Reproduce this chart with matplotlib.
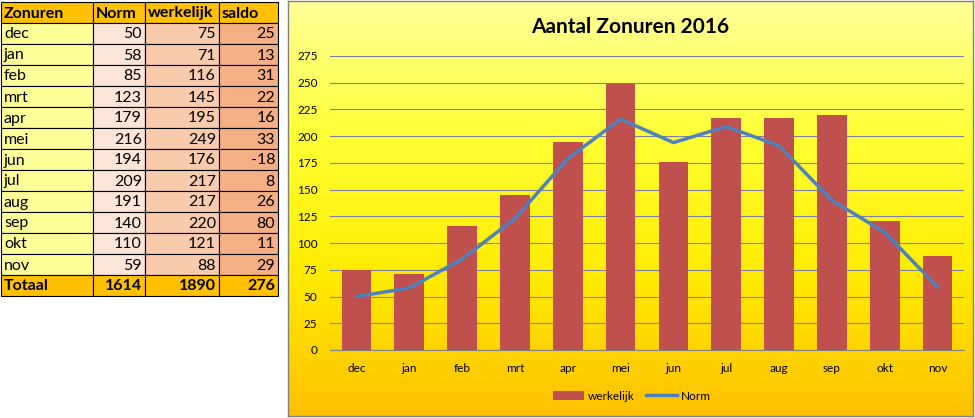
import numpy as np
import matplotlib.pyplot as plt
from matplotlib.patches import Rectangle
from matplotlib.colors import LinearSegmentedColormap

maanden = ["dec", "jan", "feb", "mrt", "apr", "mei", "jun", "jul", "aug", "sep", "okt", "nov"]
norm = [50, 58, 85, 123, 179, 216, 194, 209, 191, 140, 110, 59]
werkelijk = [75, 71, 116, 145, 195, 249, 176, 217, 217, 220, 121, 88]
saldo = [25, 13, 31, 22, 16, 33, -18, 8, 26, 80, 11, 29]
kolommen = ["Zonuren", "Norm", "werkelijk", "saldo"]
y_ticks = list(range(0, 276, 25))

plt.rcParams["font.family"] = ["Lato", "DejaVu Sans"]

W, H = 975, 418
fig = plt.figure(figsize=(W / 100, H / 100), dpi=100)
fig.patch.set_facecolor("white")


def px_axes(x0, y0, x1, y1, **kw):
    # pixel box (top-left origin) -> figure axes
    return fig.add_axes([x0 / W, 1 - y1 / H, (x1 - x0) / W, (y1 - y0) / H], **kw)


# ---- tabel links ----
tab = px_axes(0, 0, W, H)
tab.set_xlim(0, W)
tab.set_ylim(H, 0)
tab.axis("off")

col_x = [1, 93, 145, 219, 278]
row_h = 21
top = 2
kleur_kop = "#FFC000"
kleur_kol = ["#FFFF99", "#FCE4D6", "#F8CBAD", "#F4B084"]

def cel(r, c, tekst, fc, bold=False, rechts=False):
    x0, x1 = col_x[c], col_x[c + 1]
    y0 = top + r * row_h
    tab.add_patch(Rectangle((x0, y0), x1 - x0, row_h, facecolor=fc,
                            edgecolor="black", linewidth=0.8))
    if rechts:
        tab.text(x1 - 3, y0 + row_h / 2 + 1, tekst, ha="right", va="center",
                 fontsize=11.5, fontweight="bold" if bold else "normal")
    else:
        tab.text(x0 + 3, y0 + row_h / 2 + 1, tekst, ha="left", va="center",
                 fontsize=11.5, fontweight="bold" if bold else "normal")

for c, k in enumerate(kolommen):
    cel(0, c, k, kleur_kop, bold=True)
for i, m in enumerate(maanden):
    cel(i + 1, 0, m, kleur_kol[0])
    cel(i + 1, 1, str(norm[i]), kleur_kol[1], rechts=True)
    cel(i + 1, 2, str(werkelijk[i]), kleur_kol[2], rechts=True)
    cel(i + 1, 3, str(saldo[i]), kleur_kol[3], rechts=True)
r = len(maanden) + 1
cel(r, 0, "Totaal", kleur_kop, bold=True)
cel(r, 1, str(sum(norm)), kleur_kop, bold=True, rechts=True)
cel(r, 2, str(sum(werkelijk)), kleur_kop, bold=True, rechts=True)
cel(r, 3, str(sum(saldo)), kleur_kop, bold=True, rechts=True)

# ---- grafiek achtergrond ----
bg = px_axes(288, 1, 973, 416)
cmap = LinearSegmentedColormap.from_list("geel", ["#FFFF99", "#FFFF33", "#FFEB00", "#FFC000"])
grad = np.linspace(0, 1, 256).reshape(-1, 1)
bg.imshow(grad, aspect="auto", cmap=cmap, extent=[0, 1, 0, 1], origin="upper")
bg.set_xticks([])
bg.set_yticks([])
for s in bg.spines.values():
    s.set_color("#808080")
    s.set_linewidth(1)

fig.text((288 + 973) / 2 / W, 1 - 27 / H, "Aantal Zonuren 2016",
         ha="center", va="center", fontsize=15, fontweight="bold")

# ---- grafiek ----
ax = px_axes(330, 56, 964, 350)
ax.patch.set_alpha(0)
x = np.arange(len(maanden))
staven = ax.bar(x, werkelijk, width=0.56, color="#C0504D", label="werkelijk", zorder=3)
lijn, = ax.plot(x, norm, color="#4F81BD", linewidth=2.5, label="Norm", zorder=4)
ax.set_xlim(-0.5, len(maanden) - 0.5)
ax.set_ylim(0, 275)
ax.set_yticks(y_ticks)
ax.set_xticks(x)
ax.set_xticklabels(maanden)
ax.tick_params(axis="both", length=0, labelsize=8.5)
ax.tick_params(axis="x", pad=9)
ax.tick_params(axis="y", pad=9)
ax.grid(axis="y", color="#7F7F9F", linewidth=0.8, zorder=0)
for s in ["top", "right", "left"]:
    ax.spines[s].set_visible(False)
ax.spines["bottom"].set_color("#808080")

fig.legend([staven, lijn], ["werkelijk", "Norm"], loc="center",
           bbox_to_anchor=(632 / W, 1 - 396 / H), ncol=2,
           frameon=False, fontsize=8.5, handlelength=2.6, handleheight=0.8,
           columnspacing=1.0, handletextpad=0.3)

fig.savefig("out.png", dpi=100)
